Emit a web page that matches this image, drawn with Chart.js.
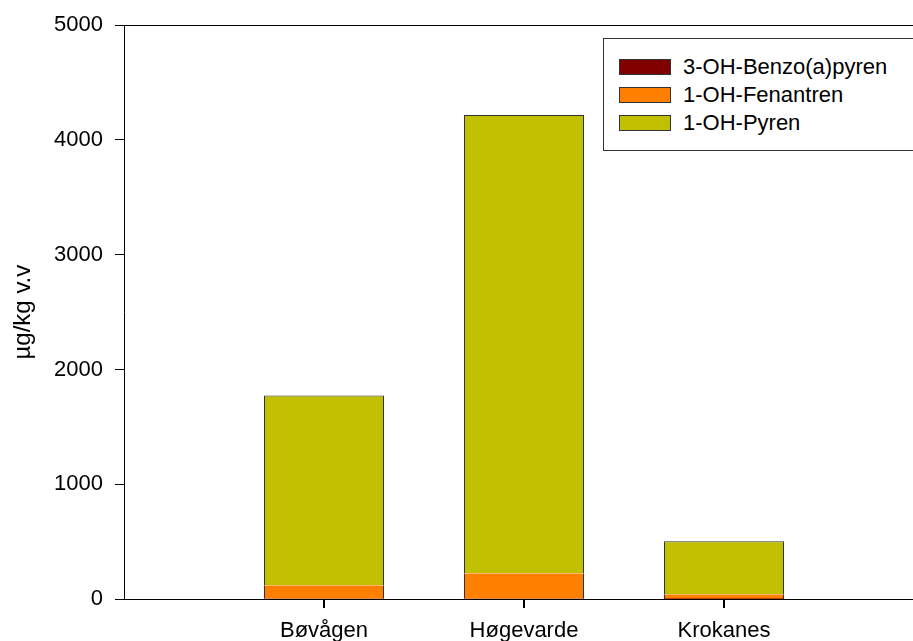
<!DOCTYPE html>
<html>
<head>
<meta charset="utf-8">
<script src="https://cdn.jsdelivr.net/npm/chart.js@4/dist/chart.umd.min.js"></script>
<style>
  html, body { margin: 0; padding: 0; background: #fff; overflow: hidden; }
  #wrap { position: relative; width: 913px; height: 641px; overflow: hidden; }
  #c { position: absolute; left: 0; top: 0; }
  #legend { position: absolute; left: 603px; top: 38px; width: 340px; height: 113px;
            border: 1px solid #333; box-sizing: border-box; background: #fff;
            font-family: "Liberation Sans", Arial, sans-serif; font-size: 22px; color: #000; }
  .item { position: absolute; left: 15px; height: 16px; display: flex; align-items: center; }
  .sw { width: 52px; height: 16px; box-sizing: border-box; border: 1px solid #333; }
  .lbl { margin-left: 12px; line-height: 16px; white-space: nowrap; }
</style>
</head>
<body>
<div id="wrap">
  <canvas id="c" width="960" height="641"></canvas>
  <div id="legend"></div>
</div>
<script>
const categories = ['Bøvågen', 'Høgevarde', 'Krokanes'];
const seriesNames = ['3-OH-Benzo(a)pyren', '1-OH-Fenantren', '1-OH-Pyren'];
const benzoValues = [2, 3, 1];
const fenantrenValues = [118, 222, 40];
const pyrenValues = [1654, 3992, 463];
const yTicks = [0, 1000, 2000, 3000, 4000, 5000];
const yTitle = 'µg/kg v.v';

const colors = ['#800000', '#ff8000', '#c0c000'];
const FONT = '"Liberation Sans", Arial, sans-serif';

// pad with empty slots at both ends so the categories sit at 1,2,3 of 0..4
const labels = [''].concat(categories, ['']);
const pad = arr => [null].concat(arr, [null]);

const datasets = [
  { label: seriesNames[0], data: pad(benzoValues), backgroundColor: colors[0],
    borderColor: '#333', borderWidth: 0, borderSkipped: false },
  { label: seriesNames[1], data: pad(fenantrenValues), backgroundColor: colors[1],
    borderColor: '#333', borderWidth: { left: 1, right: 1, top: 0, bottom: 0 }, borderSkipped: false },
  { label: seriesNames[2], data: pad(pyrenValues), backgroundColor: colors[2],
    borderColor: '#333', borderWidth: { left: 1, right: 1, top: 1, bottom: 0 }, borderSkipped: false }
];

// frame line along the top and category tick marks under the x axis
const axisExtras = {
  id: 'axisExtras',
  afterDraw(chart) {
    const { ctx, chartArea } = chart;
    const xs = chart.scales.x, ys = chart.scales.y;
    ctx.save();
    ctx.strokeStyle = '#000';
    ctx.lineWidth = 1;
    const yTop = Math.round(ys.getPixelForValue(yTicks[yTicks.length - 1])) + 0.5;
    ctx.beginPath();
    ctx.moveTo(chartArea.left, yTop);
    ctx.lineTo(chartArea.right, yTop);
    ctx.stroke();
    const yb = Math.round(ys.getPixelForValue(0));
    ctx.fillStyle = '#000';
    labels.forEach((l, i) => {
      if (!l) return;
      const x = Math.round(xs.getPixelForValue(i));
      ctx.fillRect(x - 1, yb, 2, 9);
    });
    ctx.restore();
  }
};

const chart = new Chart(document.getElementById('c'), {
  type: 'bar',
  data: { labels, datasets },
  options: {
    responsive: false,
    animation: false,
    devicePixelRatio: 1,
    layout: { padding: { top: 23, right: 36, bottom: 0, left: 0 } },
    plugins: { legend: { display: false }, tooltip: { enabled: false } },
    datasets: { bar: { categoryPercentage: 1, barPercentage: 0.6 } },
    scales: {
      x: {
        type: 'category',
        stacked: true,
        offset: false,
        grid: { display: false, offset: false, drawOnChartArea: false },
        border: { display: true, color: '#000', width: 1 },
        ticks: { color: '#000', font: { family: FONT, size: 22 }, padding: 11,
                 autoSkip: false, maxRotation: 0 },
        afterFit: s => { s.height = 42; }
      },
      y: {
        stacked: true,
        min: 0, max: 5000,
        afterBuildTicks: s => { s.ticks = yTicks.map(v => ({ value: v })); },
        grid: { display: true, drawOnChartArea: false, drawTicks: true, tickLength: 9,
                color: '#000', tickColor: '#000', tickWidth: 1 },
        border: { display: true, color: '#000', width: 1 },
        ticks: { color: '#000', font: { family: FONT, size: 22 }, padding: 12,
                 callback: v => String(v) },
        title: { display: true, text: yTitle, color: '#000',
                 font: { family: FONT, size: 24 }, padding: { top: 9, bottom: 0 } },
        afterFit: s => { s.width = 124; }
      }
    }
  },
  plugins: [axisExtras]
});

// HTML legend built from the datasets
const lg = document.getElementById('legend');
datasets.forEach((d, i) => {
  const it = document.createElement('div');
  it.className = 'item';
  it.style.top = (20 + i * 28) + 'px';
  const sw = document.createElement('div');
  sw.className = 'sw';
  sw.style.background = d.backgroundColor;
  const t = document.createElement('span');
  t.className = 'lbl';
  t.textContent = d.label;
  it.appendChild(sw); it.appendChild(t);
  lg.appendChild(it);
});
</script>
</body>
</html>
